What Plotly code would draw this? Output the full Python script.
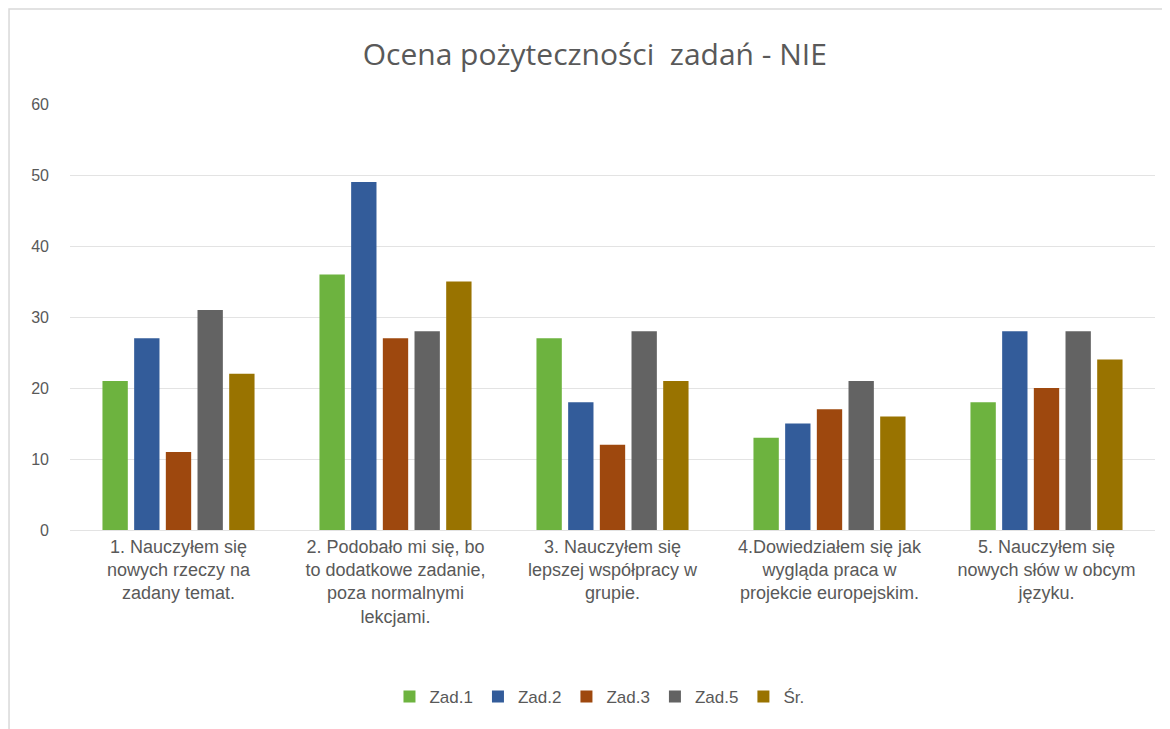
import plotly.graph_objects as go

categories = [
    "1. Nauczyłem się<br>nowych rzeczy na<br>zadany temat.",
    "2. Podobało mi się, bo<br>to dodatkowe zadanie,<br>poza normalnymi<br>lekcjami.",
    "3. Nauczyłem się<br>lepszej współpracy w<br>grupie.",
    "4.Dowiedziałem się jak<br>wygląda praca w<br>projekcie europejskim.",
    "5. Nauczyłem się<br>nowych słów w obcym<br>języku.",
]
series_names = ["Zad.1", "Zad.2", "Zad.3", "Zad.5", "Śr."]
zad1 = [21, 36, 27, 13, 18]
zad2 = [27, 49, 18, 15, 28]
zad3 = [11, 27, 12, 17, 20]
zad5 = [31, 28, 28, 21, 28]
sr = [22, 35, 21, 16, 24]
colors = ["#6DB33F", "#335C9A", "#9E480E", "#636363", "#997300"]
y_ticks = [0, 10, 20, 30, 40, 50, 60]

fig = go.Figure()
for name, vals, col in zip(series_names, [zad1, zad2, zad3, zad5, sr], colors):
    fig.add_trace(go.Bar(name=name, x=categories, y=vals, marker_color=col,
                         marker_line_width=0))

fnt = "Liberation Sans, Arial"
fig.update_layout(
    width=1162, height=721,
    margin=dict(l=62, r=15, t=96, b=199),
    paper_bgcolor="white", plot_bgcolor="white",
    barmode="group", bargap=0.27, bargroupgap=0.2,
    title=dict(text="Ocena pożyteczności  zadań - NIE", x=0.505, xanchor="center",
               y=0.935, yanchor="middle",
               font=dict(family="Open Sans, Noto Sans, Arial", size=30, color="#595959")),
    font=dict(family=fnt, color="#595959"),
    legend=dict(orientation="h", x=0.488, xanchor="center", y=-0.392, yanchor="middle",
                font=dict(family=fnt, size=17, color="#595959"),
                itemwidth=30, traceorder="normal"),
    showlegend=True,
    shapes=[dict(type="rect", xref="paper", yref="paper",
                 x0=-0.0562, x1=1.1, y0=-0.5, y1=1.223,
                 line=dict(color="#D9D9D9", width=1.5), layer="below")],
)
fig.update_yaxes(range=[0, 60], tickvals=y_ticks, showgrid=True, gridcolor="#E3E3E3",
                 gridwidth=1, zeroline=False, showline=False,
                 tickfont=dict(family=fnt, size=16, color="#595959"),
                 ticklabelstandoff=20)
fig.update_xaxes(showline=True, linecolor="#E3E3E3", linewidth=1, showgrid=False,
                 tickfont=dict(family=fnt, size=18, color="#595959"),
                 ticks="", tickangle=0)
fig.write_html("out.html")
